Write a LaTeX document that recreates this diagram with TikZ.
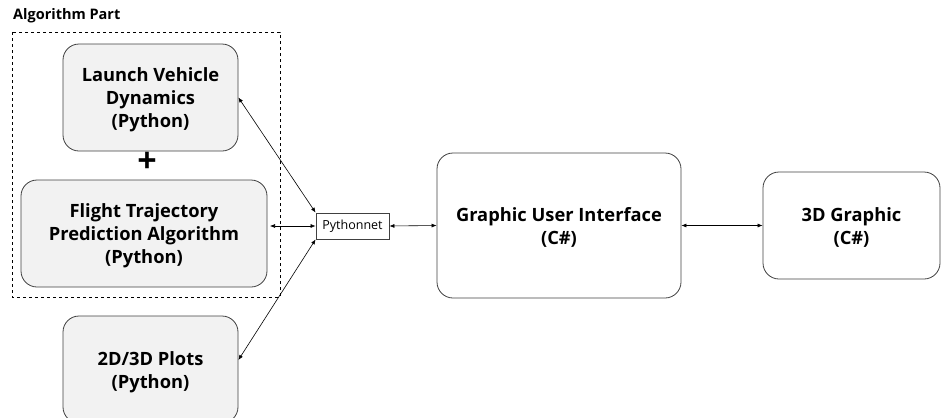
\documentclass[tikz,border=0pt]{standalone}
\usepackage{fontspec}
\setmainfont{Open Sans}
\usetikzlibrary{arrows.meta}
\definecolor{boxfill}{HTML}{F2F2F2}
\definecolor{edge}{HTML}{404040}
\newcommand{\topstrut}{\rule{0pt}{18.5pt}}
\tikzset{
  blk/.style={draw=edge, line width=0.8pt, rounded corners=16pt, align=center,
    font=\fontsize{18.3}{23}\selectfont\bfseries, inner sep=0pt},
  gray/.style={blk, fill=boxfill},
  link/.style={line width=0.6pt, {Latex[length=5pt,width=4pt]}-{Latex[length=5pt,width=4pt]}},
}
\begin{document}
\begin{tikzpicture}[x=1pt,y=-1pt]
\clip (0,0) rectangle (946,418);
\useasboundingbox (0,0) rectangle (946,418);
\node[font=\fontsize{14.5}{16}\selectfont\bfseries, anchor=west, inner sep=0pt] (title) at (13,16) {Algorithm Part};
\draw[dashed, line width=0.6pt] (12,32) rectangle (280,297);
\node[gray, minimum width=175pt, minimum height=107pt] (lvd) at (150.5,97.5) {\topstrut Launch Vehicle\\Dynamics\\(Python)};
\node[font=\fontsize{34}{34}\selectfont\bfseries] (plus) at (147,162) {+};
\node[gray, minimum width=246pt, minimum height=107pt] (ftpa) at (144,233.5) {\topstrut Flight Trajectory\\Prediction Algorithm\\(Python)};
\node[gray, minimum width=175pt, minimum height=107pt] (plots) at (150.5,369.5) {\topstrut 2D/3D Plots\\(Python)};
\node[draw=edge, line width=0.8pt, minimum width=73pt, minimum height=26pt, inner sep=0pt,
  font=\fontsize{12.5}{14}\selectfont] (py) at (352.5,226) {Pythonnet};
\node[blk, minimum width=244pt, minimum height=145pt] (gui) at (559,225.5) {\topstrut Graphic User Interface\\(C\#)};
\node[blk, minimum width=177pt, minimum height=107pt] (g3d) at (851.5,225.5) {\topstrut 3D Graphic\\(C\#)};
\coordinate (ftpaR) at (270,226);
\draw[link] (lvd.east) -- (py.north west);
\draw[link] (ftpaR) -- (py.west);
\draw[link] (plots.east |- 0,360) -- (py.south west);
\draw[link] (py.east) -- (gui.west);
\draw[link] (gui.east) -- (g3d.west);
\end{tikzpicture}
\end{document}
